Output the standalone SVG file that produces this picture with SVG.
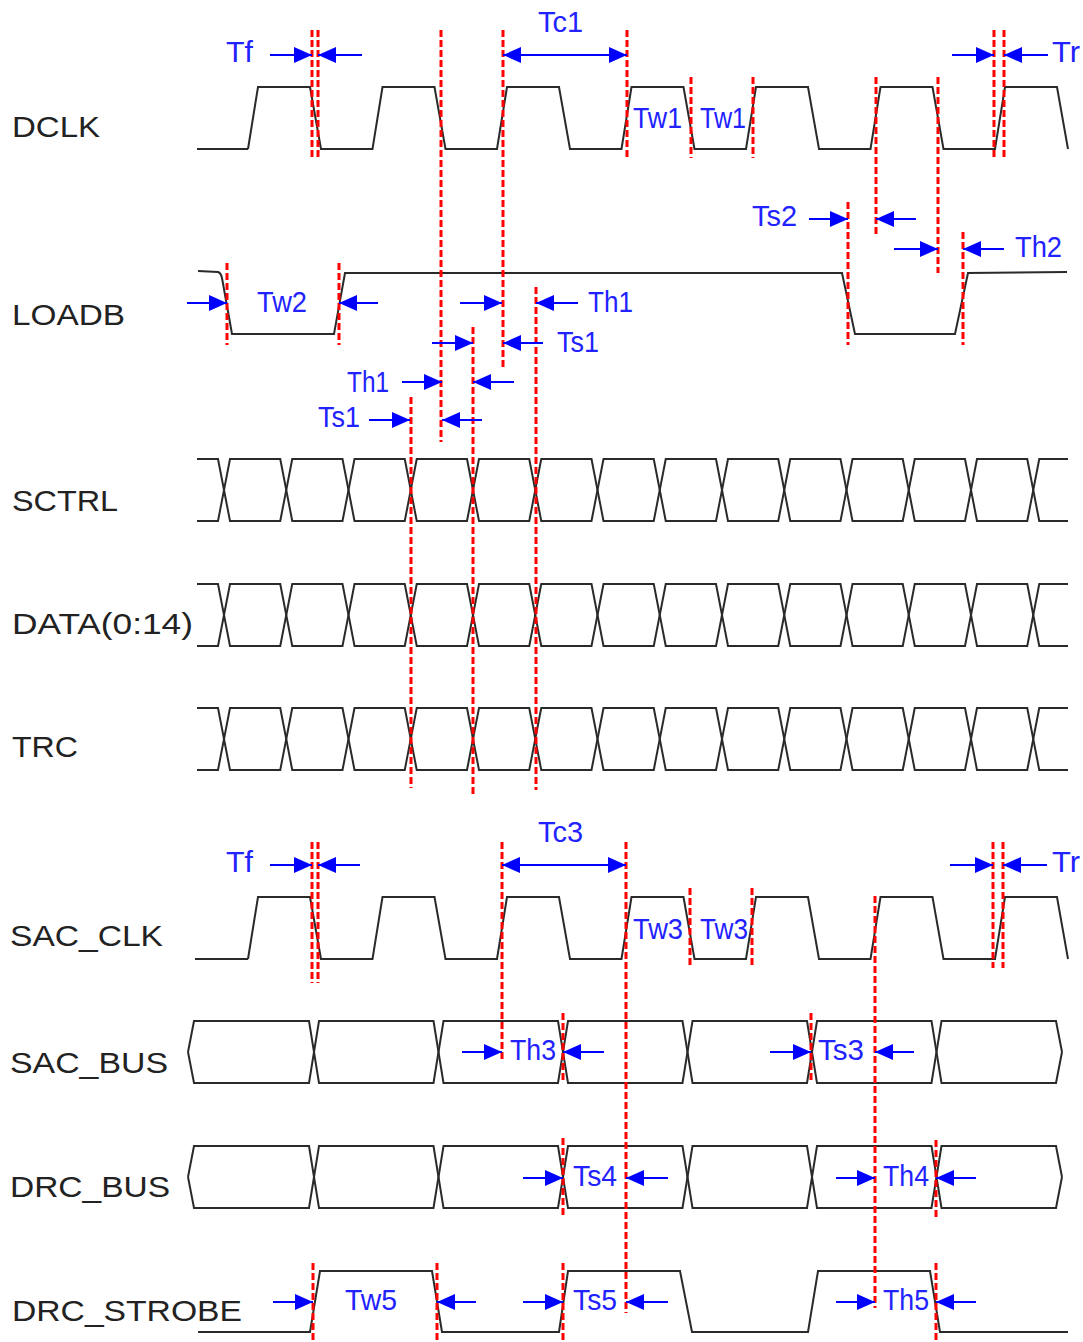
<svg xmlns="http://www.w3.org/2000/svg" xmlns:xlink="http://www.w3.org/1999/xlink" width="1083" height="1342" viewBox="0 0 1083 1342">
<style>
.sig{fill:none;stroke:#2a2a2a;stroke-width:2;stroke-linejoin:miter}
.lbl{font-family:"Liberation Sans",Arial,sans-serif;font-size:30px;fill:#222}
.t{font-family:"Liberation Sans",Arial,sans-serif;font-size:30px;fill:#2222ff}
.red{stroke:#ff0000;stroke-width:3;stroke-dasharray:7 3;fill:none}
.arr{stroke:#0000ff;stroke-width:2;fill:none;marker-end:url(#ah)}
.arr2{stroke:#0000ff;stroke-width:2;fill:none;marker-end:url(#ah);marker-start:url(#ah)}
</style>
<defs>
<marker id="ah" markerUnits="userSpaceOnUse" markerWidth="18" markerHeight="16" refX="18" refY="8" orient="auto-start-reverse">
<path d="M0,0 L18,8 L0,16 z" fill="#0000ff"/>
</marker>
<g id="eye">
<path class="sig" d="M197,0 H218 L230,62 H280.25 L292.25,0 H342.5 L354.5,62 H404.75 L416.75,0 H467 L479,62 H529.25 L541.25,0 H591.5 L603.5,62 H653.75 L665.75,0 H716 L728,62 H778.25 L790.25,0 H840.5 L852.5,62 H902.75 L914.75,0 H965 L977,62 H1027.25 L1039.25,0 H1068"/>
<path class="sig" d="M197,62 H218 L230,0 H280.25 L292.25,62 H342.5 L354.5,0 H404.75 L416.75,62 H467 L479,0 H529.25 L541.25,62 H591.5 L603.5,0 H653.75 L665.75,62 H716 L728,0 H778.25 L790.25,62 H840.5 L852.5,0 H902.75 L914.75,62 H965 L977,0 H1027.25 L1039.25,62 H1068"/>
</g>
<g id="bus">
<path class="sig" d="M188,31 L194,0 H309 L319,62 H433.5 L443.5,0 H558 L568,62 H682.5 L692.5,0 H807 L817,62 H931.5 L941.5,0 H1056 L1062,31"/>
<path class="sig" d="M188,31 L194,62 H309 L319,0 H433.5 L443.5,62 H558 L568,0 H682.5 L692.5,62 H807 L817,0 H931.5 L941.5,62 H1056 L1062,31"/>
</g>
<path id="clk" class="sig" d="M248,62 L258,0 L310,0 L321,62 L372.5,62 L382.5,0 L434.5,0 L445.5,62 L497,62 L507,0 L559,0 L570,62 L621.5,62 L631.5,0 L683.5,0 L694.5,62 L746,62 L756,0 L808,0 L819,62 L870.5,62 L880.5,0 L932.5,0 L943.5,62 L995,62 L1005,0 L1057,0 L1068,62"/>
</defs>

<g id="DCLK">
<text class="lbl" x="12" y="137" textLength="88" lengthAdjust="spacingAndGlyphs">DCLK</text>
<path class="sig" d="M197,149 H248"/>
<use xlink:href="#clk" href="#clk" y="87"/>
</g>
<g id="LOADB">
<text class="lbl" x="12" y="325" textLength="113" lengthAdjust="spacingAndGlyphs">LOADB</text>
<path class="sig" d="M198,271 L218,272 Q221,273 222,278 L232,334 H334 L345,273 H842 L855,334 H955 L968,273 L1067,272"/>
</g>
<g id="SCTRL">
<text class="lbl" x="12" y="511" textLength="106" lengthAdjust="spacingAndGlyphs">SCTRL</text>
<use xlink:href="#eye" href="#eye" y="459"/>
</g>
<g id="DATA">
<text class="lbl" x="12" y="634" textLength="181" lengthAdjust="spacingAndGlyphs">DATA(0:14)</text>
<use xlink:href="#eye" href="#eye" y="584"/>
</g>
<g id="TRC">
<text class="lbl" x="12" y="757" textLength="66" lengthAdjust="spacingAndGlyphs">TRC</text>
<use xlink:href="#eye" href="#eye" y="708"/>
</g>
<g id="SAC_CLK">
<text class="lbl" x="10" y="946" textLength="153" lengthAdjust="spacingAndGlyphs">SAC_CLK</text>
<path class="sig" d="M195,959 H248"/>
<use xlink:href="#clk" href="#clk" y="897"/>
</g>
<g id="SAC_BUS">
<text class="lbl" x="10" y="1073" textLength="158" lengthAdjust="spacingAndGlyphs">SAC_BUS</text>
<use xlink:href="#bus" href="#bus" y="1021"/>
</g>
<g id="DRC_BUS">
<text class="lbl" x="10" y="1197" textLength="160" lengthAdjust="spacingAndGlyphs">DRC_BUS</text>
<use xlink:href="#bus" href="#bus" y="1146"/>
</g>
<g id="DRC_STROBE">
<text class="lbl" x="12" y="1321" textLength="230" lengthAdjust="spacingAndGlyphs">DRC_STROBE</text>
<path class="sig" d="M198,1332 H310 L320,1271 H432 L442,1332 H559 L568,1271 H680 L692,1332 H808 L818,1271 H930 L940,1332 H1068"/>
</g>

<g id="connectors">
<g id="guides">
<path class="red" d="M312,30 V158 M318,30 V158 M441,30 V442 M503,30 V367 M627,30 V158 M691,77 V158 M753,77 V158 M876,77 V237 M938,77 V273 M994,30 V158 M1004,30 V158"/>
<path class="red" d="M227,263 V345 M339,263 V345 M848,202 V345 M963,232 V345 M473,327 V795 M536,287 V790 M411,397 V788"/>
<path class="red" d="M312,842 V983 M318,842 V983 M502,842 V1060 M626,842 V1313 M690,888 V967 M752,888 V967 M875,896 V1308 M993,842 V968 M1003,842 V968"/>
<path class="red" d="M563,1013 V1082 M811,1013 V1082 M563,1138 V1217 M936,1140 V1217 M313,1263 V1342 M437,1263 V1342 M563,1263 V1342 M936,1263 V1340"/>
</g>
<g id="arrows">
<path class="arr" d="M270,55 H312"/><path class="arr" d="M362,55 H318"/>
<path class="arr2" d="M503,55 H627"/>
<path class="arr" d="M952,55 H994"/><path class="arr" d="M1048,55 H1004"/>
<path class="arr" d="M187,303 H227"/><path class="arr" d="M378,303 H339"/>
<path class="arr" d="M460,303 H502"/><path class="arr" d="M578,303 H536"/>
<path class="arr" d="M432,343 H473"/><path class="arr" d="M543,343 H503"/>
<path class="arr" d="M402,382 H442"/><path class="arr" d="M514,382 H473"/>
<path class="arr" d="M369,420 H410"/><path class="arr" d="M482,420 H442"/>
<path class="arr" d="M809,219 H848"/><path class="arr" d="M916,219 H876"/>
<path class="arr" d="M894,249 H938"/><path class="arr" d="M1004,249 H963"/>
<path class="arr" d="M270,865 H312"/><path class="arr" d="M360,865 H318"/>
<path class="arr2" d="M502,865 H626"/>
<path class="arr" d="M950,865 H993"/><path class="arr" d="M1047,865 H1003"/>
<path class="arr" d="M462,1052 H502"/><path class="arr" d="M604,1052 H563"/>
<path class="arr" d="M770,1052 H811"/><path class="arr" d="M914,1052 H875"/>
<path class="arr" d="M523,1178 H563"/><path class="arr" d="M668,1178 H626"/>
<path class="arr" d="M836,1178 H875"/><path class="arr" d="M976,1178 H936"/>
<path class="arr" d="M273,1302 H313"/><path class="arr" d="M476,1302 H437"/>
<path class="arr" d="M523,1302 H563"/><path class="arr" d="M668,1302 H626"/>
<path class="arr" d="M836,1302 H875"/><path class="arr" d="M976,1302 H936"/>
</g>
<g id="timing-labels">
<text class="t" x="226" y="62" textLength="27" lengthAdjust="spacingAndGlyphs">Tf</text>
<text class="t" x="538" y="32" textLength="45" lengthAdjust="spacingAndGlyphs">Tc1</text>
<text class="t" x="1052" y="62" textLength="28" lengthAdjust="spacingAndGlyphs">Tr</text>
<text class="t" x="633" y="128" textLength="49" lengthAdjust="spacingAndGlyphs">Tw1</text>
<text class="t" x="700" y="128" textLength="46" lengthAdjust="spacingAndGlyphs">Tw1</text>
<text class="t" x="257" y="312" textLength="50" lengthAdjust="spacingAndGlyphs">Tw2</text>
<text class="t" x="588" y="312" textLength="45" lengthAdjust="spacingAndGlyphs">Th1</text>
<text class="t" x="557" y="352" textLength="42" lengthAdjust="spacingAndGlyphs">Ts1</text>
<text class="t" x="347" y="392" textLength="42" lengthAdjust="spacingAndGlyphs">Th1</text>
<text class="t" x="318" y="427" textLength="42" lengthAdjust="spacingAndGlyphs">Ts1</text>
<text class="t" x="752" y="226" textLength="45" lengthAdjust="spacingAndGlyphs">Ts2</text>
<text class="t" x="1015" y="257" textLength="47" lengthAdjust="spacingAndGlyphs">Th2</text>
<text class="t" x="226" y="872" textLength="27" lengthAdjust="spacingAndGlyphs">Tf</text>
<text class="t" x="538" y="842" textLength="45" lengthAdjust="spacingAndGlyphs">Tc3</text>
<text class="t" x="1052" y="872" textLength="28" lengthAdjust="spacingAndGlyphs">Tr</text>
<text class="t" x="633" y="939" textLength="50" lengthAdjust="spacingAndGlyphs">Tw3</text>
<text class="t" x="700" y="939" textLength="48" lengthAdjust="spacingAndGlyphs">Tw3</text>
<text class="t" x="510" y="1060" textLength="46" lengthAdjust="spacingAndGlyphs">Th3</text>
<text class="t" x="818" y="1060" textLength="46" lengthAdjust="spacingAndGlyphs">Ts3</text>
<text class="t" x="573" y="1186" textLength="44" lengthAdjust="spacingAndGlyphs">Ts4</text>
<text class="t" x="883" y="1186" textLength="46" lengthAdjust="spacingAndGlyphs">Th4</text>
<text class="t" x="345" y="1310" textLength="52" lengthAdjust="spacingAndGlyphs">Tw5</text>
<text class="t" x="573" y="1310" textLength="44" lengthAdjust="spacingAndGlyphs">Ts5</text>
<text class="t" x="883" y="1310" textLength="46" lengthAdjust="spacingAndGlyphs">Th5</text>
</g>
</g>
</svg>
